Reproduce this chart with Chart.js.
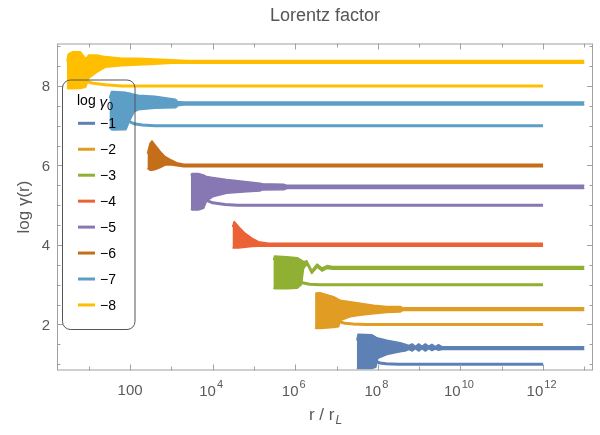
<!DOCTYPE html>
<html>
<head>
<meta charset="utf-8">
<script src="https://cdn.jsdelivr.net/npm/chart.js@4/dist/chart.umd.min.js"></script>
<style>
html, body { margin: 0; padding: 0; background: #fff; }
</style>
</head>
<body>
<canvas id="lorentz-chart" width="600" height="435"></canvas>
<script>
// x values are log10(r / r_L), y values are log gamma
// "a" = oscillating branch (envelope hi/lo, ends at 1e13), "b" = flat branch (ends at 1e12)
const legendLabels = ['\u22121', '\u22122', '\u22123', '\u22124', '\u22125', '\u22126', '\u22127', '\u22128'];
const colors = ['#5E81B5', '#E19C24', '#8FB032', '#EB6235', '#8778B3', '#C56E1A', '#5D9EC7', '#FFBF00'];

const xTickValues = [2, 4, 6, 8, 10, 12];
const yTickValues = [2, 4, 6, 8];

// -1
const a1_x  = [7.49, 7.52, 7.85, 7.95, 8.0, 8.22, 8.54, 8.66, 8.75, 8.83, 8.91, 8.99, 9.07, 9.15, 9.23, 9.31, 9.39, 9.47, 9.55, 13];
const a1_hi = [1.60, 1.75, 1.74, 1.68, 1.66, 1.60, 1.54, 1.50, 1.47, 1.51, 1.45, 1.51, 1.45, 1.51, 1.45, 1.50, 1.44, 1.49, 1.44, 1.44];
const a1_lo = [0.90, 0.89, 0.89, 0.92, 1.15, 1.24, 1.31, 1.33, 1.37, 1.33, 1.39, 1.33, 1.39, 1.33, 1.39, 1.34, 1.38, 1.35, 1.37, 1.37];
const b1_x  = [7.95, 8.05, 8.2, 8.5, 12];
const b1_y  = [1.07, 1.03, 1.01, 1.0, 1.0];
// -2
const a2_x  = [6.48, 6.5, 6.6, 6.93, 7.05, 7.09, 7.33, 7.57, 7.90, 8.22, 8.54, 8.6, 13];
const a2_hi = [2.70, 2.79, 2.80, 2.70, 2.63, 2.61, 2.57, 2.53, 2.48, 2.45, 2.45, 2.42, 2.42];
const a2_lo = [1.92, 1.90, 1.90, 1.92, 1.94, 2.10, 2.19, 2.23, 2.27, 2.30, 2.31, 2.35, 2.35];
const b2_x  = [7.05, 7.2, 7.4, 7.7, 12];
const b2_y  = [2.07, 2.03, 2.01, 2.0, 2.0];
// -3
const a3_x  = [5.47, 5.5, 5.8, 6.05, 6.15, 6.2, 6.28, 6.4, 6.53, 6.65, 6.77, 6.9, 13];
const a3_hi = [3.62, 3.72, 3.70, 3.68, 3.62, 3.58, 3.60, 3.36, 3.52, 3.42, 3.48, 3.46, 3.46];
const a3_lo = [2.92, 2.90, 2.90, 2.91, 3.00, 3.40, 3.52, 3.28, 3.44, 3.34, 3.41, 3.39, 3.39];
const b3_x  = [6.1, 6.2, 6.35, 6.6, 12];
const b3_y  = [3.08, 3.04, 3.01, 3.0, 3.0];
// -4 (single branch, ends at 1e12)
const a4_x  = [4.48, 4.52, 4.63, 4.79, 4.95, 5.11, 5.35, 12];
const a4_hi = [4.45, 4.59, 4.46, 4.29, 4.17, 4.08, 4.04, 4.04];
const a4_lo = [3.92, 3.92, 3.92, 3.94, 3.96, 3.97, 3.97, 3.97];
// -5
const a5_x  = [3.47, 3.5, 3.65, 3.78, 3.85, 4.0, 4.34, 4.83, 5.15, 5.2, 5.72, 5.8, 13];
const a5_hi = [5.75, 5.80, 5.80, 5.76, 5.72, 5.70, 5.65, 5.59, 5.55, 5.54, 5.53, 5.50, 5.50];
const a5_lo = [4.90, 4.88, 4.88, 4.92, 5.10, 5.21, 5.30, 5.34, 5.36, 5.38, 5.39, 5.42, 5.42];
const b5_x  = [3.85, 4.0, 4.3, 4.6, 12];
const b5_y  = [5.12, 5.06, 5.02, 5.0, 5.0];
// -6 (single branch, ends at 1e12)
const a6_x  = [2.42, 2.48, 2.53, 2.61, 2.73, 2.85, 2.97, 3.13, 3.3, 12];
const a6_hi = [6.30, 6.55, 6.62, 6.51, 6.35, 6.22, 6.15, 6.07, 6.03, 6.03];
const a6_lo = [5.93, 5.88, 5.88, 5.90, 5.95, 6.01, 6.02, 5.99, 5.97, 5.97];
// -7
const a7_x  = [1.5, 1.55, 1.6, 1.9, 2.0, 2.1, 2.2, 2.6, 3.1, 3.15, 3.3, 13];
const a7_hi = [7.70, 7.86, 7.86, 7.84, 7.82, 7.79, 7.77, 7.74, 7.67, 7.61, 7.60, 7.60];
const a7_lo = [6.95, 6.90, 6.89, 6.90, 7.15, 7.35, 7.40, 7.44, 7.45, 7.50, 7.52, 7.52];
const b7_x  = [1.95, 2.1, 2.3, 2.6, 12];
const b7_y  = [7.12, 7.05, 7.02, 7.0, 7.0];
// -8
const a8_x  = [0.47, 0.5, 0.6, 0.8, 0.9, 0.93, 1.0, 1.2, 1.4, 1.8, 2.2, 2.6, 3.0, 3.4, 13];
const a8_hi = [8.62, 8.80, 8.86, 8.86, 8.72, 8.70, 8.78, 8.78, 8.74, 8.70, 8.70, 8.68, 8.66, 8.64, 8.64];
const a8_lo = [7.94, 7.93, 7.93, 7.94, 7.96, 7.98, 8.20, 8.35, 8.47, 8.51, 8.53, 8.55, 8.57, 8.57, 8.57];
const b8_x  = [0.93, 1.1, 1.4, 1.8, 12];
const b8_y  = [8.12, 8.07, 8.03, 8.0, 8.0];

const branchA = [[a1_x, a1_hi, a1_lo], [a2_x, a2_hi, a2_lo], [a3_x, a3_hi, a3_lo], [a4_x, a4_hi, a4_lo],
                 [a5_x, a5_hi, a5_lo], [a6_x, a6_hi, a6_lo], [a7_x, a7_hi, a7_lo], [a8_x, a8_hi, a8_lo]];
const branchB = [[b1_x, b1_y], [b2_x, b2_y], [b3_x, b3_y], null, [b5_x, b5_y], null, [b7_x, b7_y], [b8_x, b8_y]];

const FONT = '"Liberation Sans", Arial, sans-serif';
const LABEL_GRAY = '#5a5a5a';

function pts(xs, ys) {
    return xs.map((x, i) => ({x: x, y: ys[i]}));
}

let datasets = [];
for (let i = 0; i < 8; i++) {
    const [xs, hi, lo] = branchA[i];
    datasets.push({
        data: pts(xs, hi), borderColor: colors[i], backgroundColor: colors[i],
        borderWidth: 1.5, fill: '+1', pointRadius: 0, tension: 0, borderJoinStyle: 'round'
    });
    datasets.push({
        data: pts(xs, lo), borderColor: colors[i], backgroundColor: colors[i],
        borderWidth: 1.5, fill: false, pointRadius: 0, tension: 0, borderJoinStyle: 'round'
    });
    if (branchB[i]) {
        datasets.push({
            data: pts(branchB[i][0], branchB[i][1]), borderColor: colors[i],
            borderWidth: 3, fill: false, pointRadius: 0, tension: 0
        });
    }
}

const sup = {'0': '\u2070', '1': '\u00b9', '2': '\u00b2', '3': '\u00b3', '4': '\u2074', '5': '\u2075', '6': '\u2076', '7': '\u2077', '8': '\u2078', '9': '\u2079'};

// draws the Mathematica style frame, ticks, labels, titles and legend
const framePlugin = {
    id: 'mmaFrame',
    afterDraw(chart) {
        const ctx = chart.ctx;
        const a = chart.chartArea;
        const xs = chart.scales.x, ys = chart.scales.y;
        ctx.save();

        // frame
        ctx.strokeStyle = '#a0a0a0';
        ctx.lineWidth = 1;
        ctx.strokeRect(a.left + 0.5, a.top + 0.5, a.right - a.left - 1, a.bottom - a.top - 1);

        // x ticks (every decade)
        ctx.beginPath();
        for (let v = 1; v <= 13; v++) {
            const px = Math.round(xs.getPixelForValue(v)) + 0.5;
            const len = (v % 2 === 0) ? 6 : 4;
            ctx.moveTo(px, a.bottom); ctx.lineTo(px, a.bottom - len);
            ctx.moveTo(px, a.top); ctx.lineTo(px, a.top + len);
        }
        // y ticks
        for (let v = 1; v <= 9; v += 0.5) {
            const py = Math.round(ys.getPixelForValue(v)) + 0.5;
            const len = (v % 2 === 0) ? 6 : 3.5;
            ctx.moveTo(a.left, py); ctx.lineTo(a.left + len, py);
            ctx.moveTo(a.right, py); ctx.lineTo(a.right - len, py);
        }
        ctx.stroke();

        // tick labels
        ctx.fillStyle = LABEL_GRAY;
        ctx.textBaseline = 'alphabetic';
        xTickValues.forEach(v => {
            const px = xs.getPixelForValue(v);
            if (v === 2) {
                ctx.font = '15px ' + FONT;
                ctx.textAlign = 'center';
                ctx.fillText('100', px, 395);
            } else {
                ctx.font = '15px ' + FONT;
                const base = '10';
                const wb = ctx.measureText(base).width;
                ctx.font = '11px ' + FONT;
                const exp = String(v);
                const we = ctx.measureText(exp).width;
                const x0 = px - (wb + we) / 2 - 2;
                ctx.textAlign = 'left';
                ctx.font = '15px ' + FONT;
                ctx.fillText(base, x0, 396);
                ctx.font = '11px ' + FONT;
                ctx.fillText(exp, x0 + wb + 1, 388);
            }
        });
        ctx.font = '15px ' + FONT;
        ctx.textAlign = 'right';
        ctx.textBaseline = 'middle';
        yTickValues.forEach(v => {
            ctx.fillText(String(v), a.left - 7, ys.getPixelForValue(v) + 1);
        });

        // title
        ctx.textAlign = 'center';
        ctx.font = '18px ' + FONT;
        ctx.fillStyle = '#555555';
        ctx.fillText('Lorentz factor', (a.left + a.right) / 2, 16);

        // y axis title
        ctx.save();
        ctx.translate(24, (a.top + a.bottom) / 2);
        ctx.rotate(-Math.PI / 2);
        ctx.font = '17px ' + FONT;
        ctx.fillStyle = LABEL_GRAY;
        ctx.textAlign = 'center';
        ctx.fillText('log \u03b3(r)', 0, 0);
        ctx.restore();

        // x axis title: r / r_L
        ctx.font = '17px ' + FONT;
        ctx.fillStyle = LABEL_GRAY;
        ctx.textAlign = 'left';
        ctx.textBaseline = 'alphabetic';
        const main = 'r / r';
        const wm = ctx.measureText(main).width;
        ctx.font = 'italic 12px ' + FONT;
        const wl = ctx.measureText('L').width;
        const tx = 325 - (wm + wl) / 2;
        ctx.font = '17px ' + FONT;
        ctx.fillText(main, tx, 420);
        ctx.font = 'italic 12px ' + FONT;
        ctx.fillText('L', tx + wm + 1, 424);

        // legend box
        const bx = 62, by = 79.5, bw = 72.5, bh = 249.5, r = 8;
        ctx.beginPath();
        ctx.roundRect(bx + 0.5, by + 0.5, bw, bh, r);
        ctx.strokeStyle = '#555555';
        ctx.lineWidth = 1;
        ctx.stroke();

        ctx.fillStyle = '#000000';
        ctx.textBaseline = 'middle';
        ctx.textAlign = 'left';
        ctx.font = '14px ' + FONT;
        ctx.fillText('log ', 77, 101);
        const wlog = ctx.measureText('log ').width;
        ctx.font = 'italic 15px ' + FONT;
        ctx.fillText('\u03b3', 77 + wlog, 103);
        const wg = ctx.measureText('\u03b3').width;
        ctx.font = '11px ' + FONT;
        ctx.fillText('0', 77 + wlog + wg, 107);

        for (let i = 0; i < 8; i++) {
            const ly = 123.3 + 25.95 * i;
            ctx.beginPath();
            ctx.moveTo(78, ly); ctx.lineTo(95, ly);
            ctx.strokeStyle = colors[i];
            ctx.lineWidth = 3;
            ctx.stroke();
            ctx.font = '14px ' + FONT;
            ctx.fillStyle = '#000000';
            ctx.fillText(legendLabels[i], 100, ly + 1);
        }
        ctx.restore();
    }
};

let lorentzElement = document.getElementById('lorentz-chart').getContext('2d');

let lorentzChart = new Chart(lorentzElement, {
    type: 'line',
    data: { datasets: datasets },
    options: {
        responsive: false,
        animation: false,
        devicePixelRatio: 1,
        layout: { padding: { left: 0, right: 7, top: 43.5, bottom: 0 } },
        plugins: { legend: { display: false }, tooltip: { enabled: false } },
        scales: {
            x: {
                type: 'linear', min: 0.23, max: 13.21,
                grid: { display: false, drawTicks: false }, border: { display: false },
                ticks: { display: false },
                afterFit: s => { s.height = 64.5; }
            },
            y: {
                type: 'linear', min: 0.84, max: 9.07,
                grid: { display: false, drawTicks: false }, border: { display: false },
                ticks: { display: false },
                afterFit: s => { s.width = 57; }
            }
        }
    },
    plugins: [framePlugin]
});
</script>
</body>
</html>
